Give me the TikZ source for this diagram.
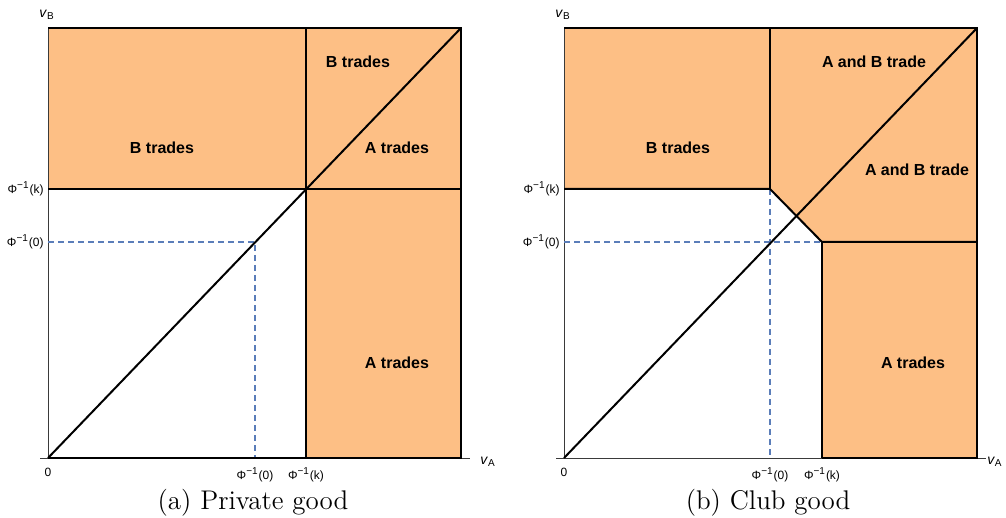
\documentclass[tikz,border=0pt]{standalone}
\usepackage{fontspec}
\newfontfamily\plotfont{Liberation Sans}
\usetikzlibrary{positioning,calc}
\usepackage{xcolor}
\definecolor{tradeFill}{HTML}{FDBF85}
\definecolor{cutBlue}{HTML}{5A7DB9}
\definecolor{axisGray}{HTML}{3A3A3A}
\newcommand{\phinv}[1]{Φ\textsuperscript{−1}(#1)}

\begin{document}
\begin{tikzpicture}[
  x=0.5pt, y=-0.5pt,
  region/.style={fill=tradeFill, draw=none},
  bound/.style={line width=1pt, color=black},
  axis/.style={line width=0.5pt, color=axisGray},
  cut/.style={line width=0.8pt, color=cutBlue, dash pattern=on 3pt off 2pt},
  zone/.style={font=\plotfont\fontsize{8}{9}\selectfont\bfseries},
  tick/.style={font=\plotfont\fontsize{6}{7}\selectfont, inner sep=1pt},
  caption/.style={font=\rmfamily\fontsize{13.5}{15}\selectfont}
]
\useasboundingbox (0,0) rectangle (1006,518);

% (a) private good
\coordinate (aO)  at (48,458);  \coordinate (aX)  at (461,458);
\coordinate (aT)  at (48,28);   \coordinate (aTR) at (461,28);
\coordinate (aKL) at (48,189);  \coordinate (aKR) at (461,189);
\coordinate (aK)  at (306,189); \coordinate (aKT) at (306,28);
\coordinate (aKB) at (306,458); \coordinate (aZ)  at (255,242);
\coordinate (aZL) at (48,242);  \coordinate (aZB) at (255,458);
\coordinate (aXs) at (40,458);  \coordinate (aXe) at (470,458);

\fill[region] (aT) rectangle (aKR);
\fill[region] (aK) rectangle (aX);
\draw[axis] (aXs) -- (aXe);
\draw[axis] (aO) -- (aT);
\draw[cut] (aZL) -- (aZ) -- (aZB);
\draw[bound] (aT) -- (aTR) -- (aX) -- (aO);
\draw[bound] (aKL) -- (aKR);
\draw[bound] (aKT) -- (aKB);
\draw[bound] (aO) -- (aTR);

\node[zone] (aB1) at (162,148) {B trades};
\node[zone] (aB2) at (358,62) {B trades};
\node[zone] (aA1) at (397,148) {A trades};
\node[zone] (aA2) at (397,363) {A trades};

\node[tick, left=1pt of aKL] (aYk) {\phinv{k}};
\node[tick, left=1pt of aZL] (aY0) {\phinv{0}};
\node[tick, below=4pt of aO] (aX0) {0};
\node[tick, below=3.5pt of aZB] (aXz) {\phinv{0}};
\node[tick, below=3.5pt of aKB] (aXk) {\phinv{k}};
\node[tick, font=\plotfont\fontsize{7}{8}\selectfont] (aVB) at (47,15) {\textit{v}\textsubscript{B}};
\node[tick, font=\plotfont\fontsize{7}{8}\selectfont] (aVA) at (488,462) {\textit{v}\textsubscript{A}};
\node[caption] (aCap) at (253,503) {(a) Private good};

% (b) club good
\coordinate (bO)  at (564,458); \coordinate (bX)  at (977,458);
\coordinate (bT)  at (564,28);  \coordinate (bTR) at (977,28);
\coordinate (bKL) at (564,189); \coordinate (bKC) at (770,189);
\coordinate (bKT) at (770,28);  \coordinate (bM)  at (822,242);
\coordinate (bZR) at (977,242); \coordinate (bMB) at (822,458);
\coordinate (bZL) at (564,242); \coordinate (bZB) at (770,458);
\coordinate (bXs) at (556,458); \coordinate (bXe) at (986,458);

\fill[region] (bT) -- (bTR) -- (bX) -- (bMB) -- (bM) -- (bKC) -- (bKL) -- cycle;
\draw[axis] (bXs) -- (bXe);
\draw[axis] (bO) -- (bT);
\draw[cut] (bZL) -- (bM);
\draw[cut] (bKC) -- (bZB);
\draw[bound] (bT) -- (bTR) -- (bX) -- (bMB);
\draw[bound] (bKT) -- (bKC);
\draw[bound] (bKL) -- (bKC) -- (bM) -- (bZR);
\draw[bound] (bM) -- (bMB);
\draw[bound] (bO) -- (bTR);

\node[zone] (bB1) at (678,148) {B trades};
\node[zone] (bAB1) at (874,62) {A and B trade};
\node[zone] (bAB2) at (917,170) {A and B trade};
\node[zone] (bA1) at (913,363) {A trades};

\node[tick, left=1pt of bKL] (bYk) {\phinv{k}};
\node[tick, left=1pt of bZL] (bY0) {\phinv{0}};
\node[tick, below=4pt of bO] (bX0) {0};
\node[tick, below=3.5pt of bZB] (bXz) {\phinv{0}};
\node[tick, below=3.5pt of bMB] (bXk) {\phinv{k}};
\node[tick, font=\plotfont\fontsize{7}{8}\selectfont] (bVB) at (563,15) {\textit{v}\textsubscript{B}};
\node[tick, font=\plotfont\fontsize{7}{8}\selectfont, anchor=east] (bVA) at (1005,462) {\textit{v}\textsubscript{A}};
\node[caption] (bCap) at (768,503) {(b) Club good};
\end{tikzpicture}
\end{document}
